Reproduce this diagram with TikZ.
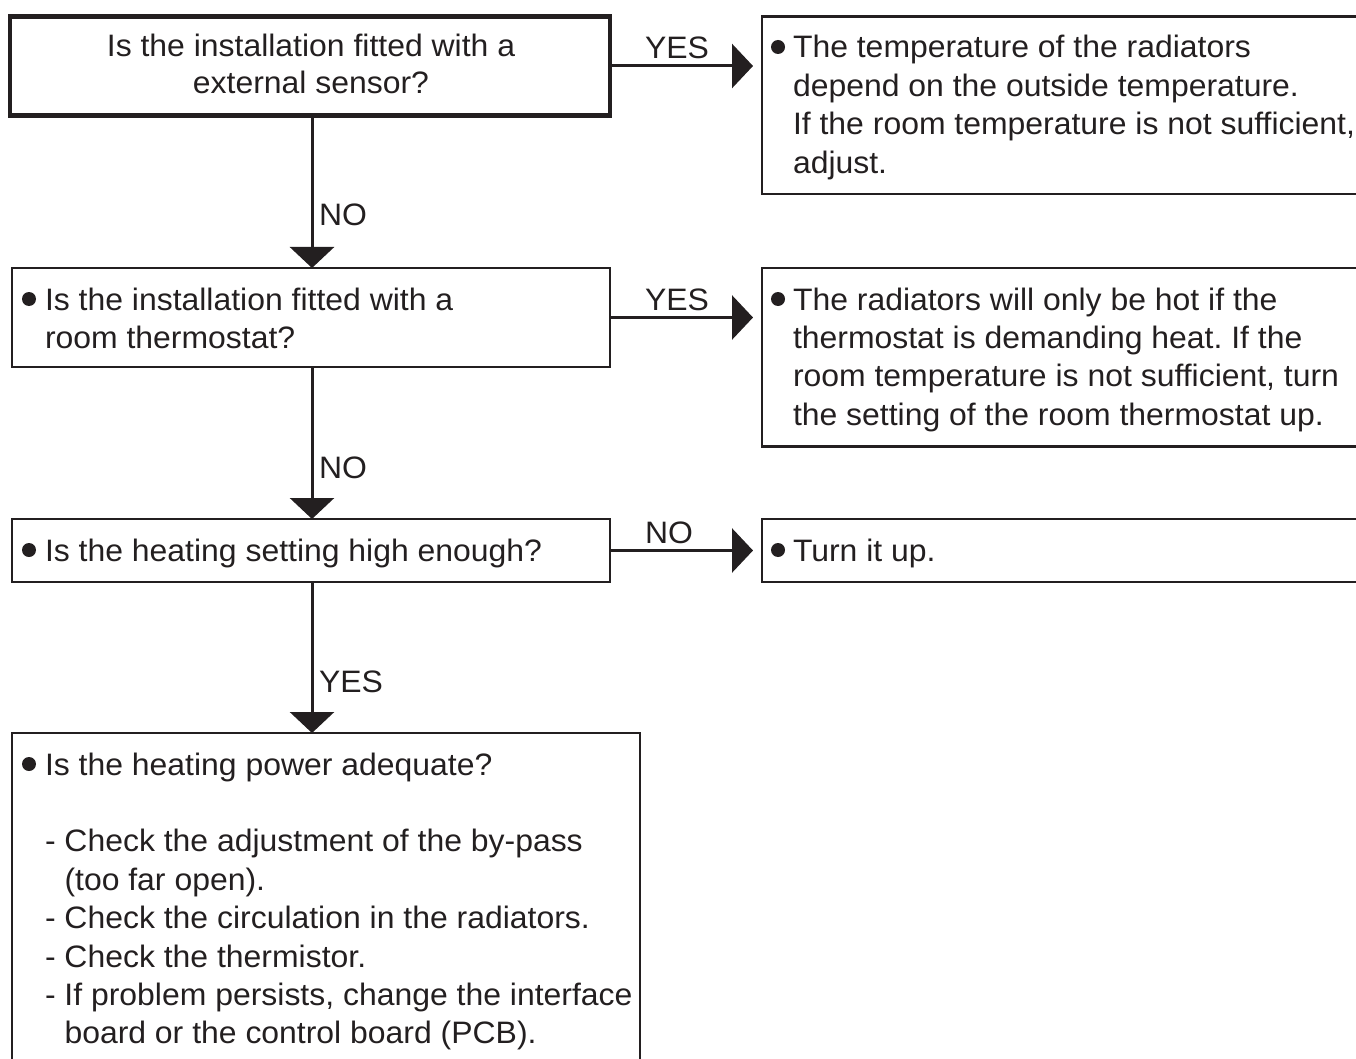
\documentclass[tikz,border=0pt]{standalone}
\usepackage{fontspec}
\setmainfont{Liberation Sans}[FakeStretch=1.03]
\usetikzlibrary{arrows.meta}
\definecolor{ink}{HTML}{231F20}
\frenchspacing
\begin{document}
\begin{tikzpicture}[x=1pt,y=-1pt,
  every node/.style={inner sep=0pt, outer sep=0pt},
  box/.style={draw=ink, line width=2.5pt, rectangle},
  thickbox/.style={draw=ink, line width=4.5pt, rectangle},
  txt/.style={text=ink, font=\fontsize{31}{38.4}\selectfont, anchor=base west},
  lbl/.style={text=ink, font=\fontsize{31}{38.4}\selectfont, anchor=base west},
  conn/.style={draw=ink, line width=3pt, -{Triangle[length=21pt,width=44pt]}},
  dot/.style={fill=ink}
]
\useasboundingbox (0,0) rectangle (1356,1059);

% boxes
\node[thickbox, minimum width=600pt, minimum height=99pt] (b1) at (310,66) {};
\node[box, minimum width=608pt, minimum height=177.5pt] (r1) at (1066,105.25) {};
\node[box, minimum width=598pt, minimum height=99pt] (b2) at (311,317.5) {};
\node[box, minimum width=608pt, minimum height=178.5pt] (r2) at (1066,357.25) {};
\node[box, minimum width=598pt, minimum height=63pt] (b3) at (311,550.5) {};
\node[box, minimum width=608pt, minimum height=63pt] (r3) at (1066,550.5) {};
\node[box, minimum width=628pt, minimum height=347pt] (b4) at (326,906.5) {};

% texts
\node[txt, anchor=base] (t1) at (311,57) {\parbox[t]{590pt}{\centering\fontsize{31}{37}\selectfont Is the installation fitted with a\\ external sensor?}};

\fill[dot] (778,47) circle[radius=7pt];
\node[txt] (tr1) at (793,58) {\parbox[t]{600pt}{\raggedright The temperature of the radiators\\depend on the outside temperature.\\If the room temperature is not sufficient,\\adjust.}};

\fill[dot] (29,299) circle[radius=7pt];
\node[txt] (t2) at (45,310) {\parbox[t]{560pt}{\raggedright Is the installation fitted with a\\room thermostat?}};

\fill[dot] (778,299) circle[radius=7pt];
\node[txt] (tr2) at (793,310) {\parbox[t]{600pt}{\raggedright The radiators will only be hot if the\\thermostat is demanding heat. If the\\room temperature is not sufficient, turn\\the setting of the room thermostat up.}};

\fill[dot] (29,550) circle[radius=7pt];
\node[txt] (t3) at (45,561) {Is the heating setting high enough?};

\fill[dot] (778,550) circle[radius=7pt];
\node[txt] (tr3) at (793,561) {Turn it up.};

\fill[dot] (29,764) circle[radius=7pt];
\node[txt] (t4) at (45,775) {\parbox[t]{600pt}{\raggedright Is the heating power adequate?\\[38.4pt]
- Check the adjustment of the by-pass\\
\phantom{- }(too far open).\\
- Check the circulation in the radiators.\\
- Check the thermistor.\\
- If problem persists, change the interface\\
\phantom{- }board or the control board (PCB).}};

% labels
\node[lbl] (l1) at (645,59) {YES};
\node[lbl] (l2) at (645,310) {YES};
\node[lbl] (l3) at (645,543) {NO};
\node[lbl] (v1) at (319,226) {NO};
\node[lbl] (v2) at (319,478) {NO};
\node[lbl] (v3) at (319,692) {YES};

% connectors
\draw[conn, shorten >=9pt] (b1.east) -- (b1.east -| r1.west);
\draw[conn, shorten >=9pt] (b2.east) -- (b2.east -| r2.west);
\draw[conn, shorten >=9pt] (b3.east) -- (b3.east -| r3.west);
\draw[conn] ([xshift=2pt]b1.south) -- ([xshift=2pt]b1.south |- b2.north);
\draw[conn] ([xshift=1pt]b2.south) -- ([xshift=1pt]b2.south |- b3.north);
\draw[conn] ([xshift=1pt]b3.south) -- ([xshift=1pt]b3.south |- b4.north);
\end{tikzpicture}
\end{document}
